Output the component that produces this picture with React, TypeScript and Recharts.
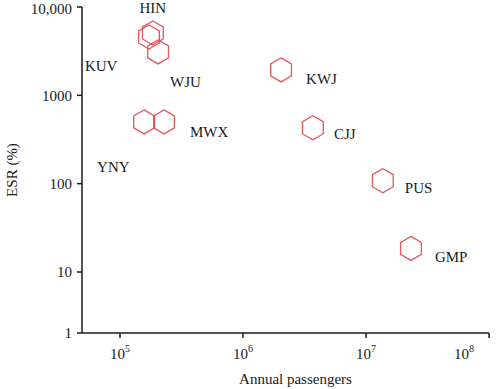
import { ScatterChart, Scatter, XAxis, YAxis, LabelList } from 'recharts'

// airport codes, annual passengers, ESR (%)
const codes = ['HIN', 'KUV', 'WJU', 'MWX', 'YNY', 'KWJ', 'CJJ', 'PUS', 'GMP']
const passengers = [185000, 172000, 204000, 228000, 157000, 2040000, 3700000, 13700000, 23200000]
const esr = [5080, 4580, 3100, 500, 500, 1940, 430, 108, 18.5]

const xTicks = [1e5, 1e6, 1e7, 1e8]
// the source axis ends a bit above 1 but still labels its floor as "1"
const Y_FLOOR = 2.04
const yTicks = [Y_FLOOR, 10, 100, 1000, 10000]

// where each code label sits relative to its hexagon (px)
const LABEL_OFFSETS: Record<string, [number, number, 'start' | 'middle']> = {
  HIN: [0, -20, 'middle'],
  KUV: [-64, 34, 'start'],
  WJU: [12, 35, 'start'],
  MWX: [26, 15, 'start'],
  YNY: [-47, 50, 'start'],
  KWJ: [25, 14, 'start'],
  CJJ: [21, 11, 'start'],
  PUS: [22, 12, 'start'],
  GMP: [24, 14, 'start'],
}

const data = codes.map((code, i) => ({ code, x: passengers[i], y: esr[i] }))

const FONT = '"Liberation Serif", "Times New Roman", serif'
const INK = '#1a1a1a'
const RED = '#e4575b'

const Hexagon = (props: any) => {
  const { cx, cy } = props
  if (cx == null || cy == null) return null
  const r = 12
  const pts = [0, 1, 2, 3, 4, 5]
    .map((k) => {
      const a = (Math.PI / 3) * k - Math.PI / 2
      return `${cx + r * Math.cos(a)},${cy + r * Math.sin(a)}`
    })
    .join(' ')
  return <polygon points={pts} fill="none" stroke={RED} strokeWidth={1.3} />
}

const PowerTick = (props: any) => {
  const { x, y, payload } = props
  const exp = Math.round(Math.log10(payload.value))
  return (
    <text x={x} y={y + 19} textAnchor="middle" fontFamily={FONT} fontSize={15} fill={INK}>
      <tspan>10</tspan>
      <tspan dy={-7} fontSize={10}>
        {exp}
      </tspan>
    </text>
  )
}

const CodeLabel = (props: any) => {
  const { x, y, width, height, value } = props
  const cx = x + width / 2
  const cy = y + height / 2
  const [dx, dy, anchor] = LABEL_OFFSETS[value] ?? [20, 10, 'start']
  return (
    <text x={cx + dx} y={cy + dy} textAnchor={anchor} fontFamily={FONT} fontSize={15} fill={INK}>
      {value}
    </text>
  )
}

const yFormat = (v: number) => {
  if (v === Y_FLOOR) return '1'
  if (v >= 10000) return v.toLocaleString('en-US')
  return String(v)
}

export default function App() {
  return (
    <div style={{ position: 'absolute', left: 0, top: 0, width: 500, height: 389, background: '#fff' }}>
      <ScatterChart width={500} height={389} margin={{ top: 7, right: 11, left: 0, bottom: 0 }}>
        <XAxis
          type="number"
          dataKey="x"
          scale="log"
          domain={[49100, 1e8]}
          ticks={xTicks}
          allowDataOverflow
          height={56}
          stroke={INK}
          strokeWidth={1.5}
          tickSize={5}
          tick={<PowerTick />}
          label={{
            value: 'Annual passengers',
            position: 'insideBottom',
            offset: 5,
            dx: 10,
            fill: INK,
            fontFamily: FONT,
            fontSize: 15,
          }}
        />
        <YAxis
          type="number"
          dataKey="y"
          scale="log"
          domain={[Y_FLOOR, 10000]}
          ticks={yTicks}
          allowDataOverflow
          width={82}
          stroke={INK}
          strokeWidth={1.5}
          tickSize={5}
          tickMargin={5}
          tickFormatter={yFormat}
          tick={{ fill: INK, fontFamily: FONT, fontSize: 15 }}
          label={{
            value: 'ESR (%)',
            angle: -90,
            position: 'insideLeft',
            offset: 12,
            fill: INK,
            fontFamily: FONT,
            fontSize: 15,
            style: { textAnchor: 'middle' },
          }}
        />
        <Scatter data={data} shape={<Hexagon />} isAnimationActive={false}>
          <LabelList dataKey="code" content={<CodeLabel />} />
        </Scatter>
      </ScatterChart>
    </div>
  )
}
